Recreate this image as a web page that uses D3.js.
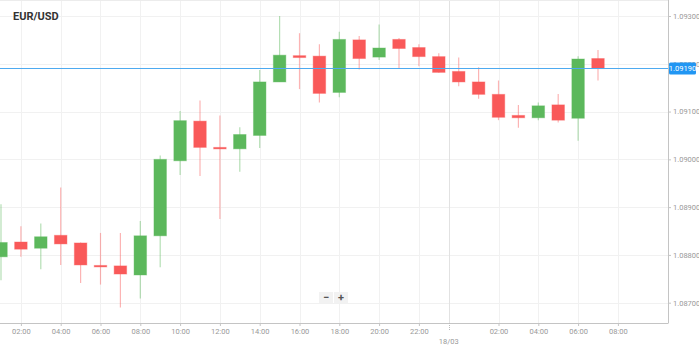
<!DOCTYPE html>
<html>
<head>
<meta charset="utf-8">
<script src="https://cdn.jsdelivr.net/npm/d3@7"></script>
<style>
  body { margin: 0; background: #fff; }
  svg { display: block; font-family: Roboto, "Open Sans", sans-serif; }
</style>
</head>
<body>
<div id="chart"></div>
<script>
// EUR/USD hourly candles, 17/03 01:00 -> 18/03 07:00
const hours = d3.range(1, 32);
const opens  = [1.08796, 1.08827, 1.08814, 1.08841, 1.08825, 1.08778, 1.08777, 1.08758, 1.08840, 1.08997,
                1.09080, 1.09025, 1.09022, 1.09050, 1.09162, 1.09217, 1.09216, 1.09140, 1.09250, 1.09214,
                1.09251, 1.09234, 1.09215, 1.09184, 1.09162, 1.09136, 1.09092, 1.09087, 1.09114, 1.09086, 1.09211];
const highs  = [1.08906, 1.08860, 1.08866, 1.08941, 1.08826, 1.08846, 1.08846, 1.08871, 1.09008, 1.09101,
                1.09123, 1.09092, 1.09067, 1.09187, 1.09300, 1.09264, 1.09241, 1.09267, 1.09258, 1.09282,
                1.09254, 1.09241, 1.09222, 1.09213, 1.09193, 1.09165, 1.09114, 1.09119, 1.09137, 1.09216, 1.09229];
const lows   = [1.08747, 1.08796, 1.08770, 1.08779, 1.08741, 1.08738, 1.08690, 1.08709, 1.08774, 1.08967,
                1.08965, 1.08875, 1.08974, 1.09024, 1.09162, 1.09147, 1.09119, 1.09130, 1.09188, 1.09208,
                1.09190, 1.09195, 1.09181, 1.09153, 1.09127, 1.09082, 1.09066, 1.09082, 1.09077, 1.09039, 1.09165];
const closes = [1.08826, 1.08812, 1.08838, 1.08823, 1.08779, 1.08777, 1.08760, 1.08840, 1.09000, 1.09081,
                1.09025, 1.09024, 1.09052, 1.09162, 1.09218, 1.09213, 1.09138, 1.09251, 1.09211, 1.09233,
                1.09232, 1.09215, 1.09182, 1.09162, 1.09136, 1.09088, 1.09087, 1.09112, 1.09082, 1.09210, 1.09190];

const priceTicks = [1.087, 1.088, 1.089, 1.090, 1.091, 1.092, 1.093];
const timeTicks = [2, 4, 6, 8, 10, 12, 14, 16, 18, 20, 22, 26, 28, 30, 32];
const daySplit = 23.5;
const dayLabel = "18/03";
const lastPrice = 1.09190;

const width = 699, height = 348;
const plotW = 668, plotH = 323;
const green = "#5cb85c", red = "#f95959";

const candles = hours.map((h, i) => ({
  h, open: opens[i], high: highs[i], low: lows[i], close: closes[i]
}));

const x = d3.scaleLinear().domain([1, 31]).range([1, 598]);
const y = d3.scaleLinear().domain([1.087, 1.093]).range([302.7, 16]);
const bodyW = 12.5;

const svg = d3.select("#chart").append("svg")
  .attr("width", width).attr("height", height);

// grid
svg.append("g").selectAll("line").data(priceTicks).join("line")
  .attr("x1", 0).attr("x2", plotW)
  .attr("y1", d => Math.round(y(d)) + 0.5).attr("y2", d => Math.round(y(d)) + 0.5)
  .attr("stroke", "#f1f1f1");
svg.append("g").selectAll("line").data(timeTicks).join("line")
  .attr("x1", d => Math.round(x(d)) + 0.5).attr("x2", d => Math.round(x(d)) + 0.5)
  .attr("y1", 0).attr("y2", plotH)
  .attr("stroke", "#f1f1f1");
svg.append("line")
  .attr("x1", Math.round(x(daySplit)) + 0.5).attr("x2", Math.round(x(daySplit)) + 0.5)
  .attr("y1", 0).attr("y2", plotH)
  .attr("stroke", "#e2e2e2");

// top border
svg.append("line").attr("x1", 0).attr("x2", plotW).attr("y1", 0.5).attr("y2", 0.5)
  .attr("stroke", "#ececec");

// candles
const g = svg.append("g");
const col = d => d.close >= d.open ? green : red;

g.selectAll("line.wick").data(candles).join("line")
  .attr("class", "wick")
  .attr("x1", d => x(d.h)).attr("x2", d => x(d.h))
  .attr("y1", d => y(d.high)).attr("y2", d => y(d.low))
  .attr("stroke", col).attr("stroke-opacity", 0.45).attr("stroke-width", 1.2);

g.selectAll("rect.body").data(candles).join("rect")
  .attr("class", "body")
  .attr("x", d => x(d.h) - bodyW / 2)
  .attr("width", bodyW)
  .attr("y", d => y(Math.max(d.open, d.close)))
  .attr("height", d => Math.max(1.5, Math.abs(y(d.open) - y(d.close))))
  .attr("fill", col)
  .attr("stroke", col).attr("stroke-opacity", 0.4).attr("stroke-width", 1);

// title
svg.append("text").attr("x", 13).attr("y", 19.5)
  .attr("font-size", 11).attr("font-weight", "bold").attr("fill", "#333")
  .text("EUR/USD");

// x axis
const xAxis = svg.append("g").attr("transform", `translate(0,${plotH})`)
  .call(d3.axisBottom(x).tickValues(timeTicks).tickSize(3).tickPadding(3)
    .tickFormat(d => String(d % 24).padStart(2, "0") + ":00"));
xAxis.select(".domain").attr("d", `M0,0.5H${plotW}`).attr("stroke", "#c4c4c4");
xAxis.selectAll(".tick line").attr("stroke", "#c4c4c4");
xAxis.selectAll(".tick text").attr("fill", "#999").attr("font-size", 7.5)
  .attr("font-family", "Roboto, sans-serif");

svg.append("line")
  .attr("x1", Math.round(x(daySplit)) + 0.5).attr("x2", Math.round(x(daySplit)) + 0.5)
  .attr("y1", plotH).attr("y2", plotH + 8)
  .attr("stroke", "#bbb").attr("stroke-dasharray", "1,1");
svg.append("text")
  .attr("x", x(daySplit)).attr("y", plotH + 21)
  .attr("text-anchor", "middle").attr("font-size", 7.5).attr("fill", "#999")
  .text(dayLabel);

// y axis
const yAxis = svg.append("g").attr("transform", `translate(${plotW},0)`)
  .call(d3.axisRight(y).tickValues(priceTicks).tickSize(3).tickPadding(2)
    .tickFormat(d3.format(".5f")));
yAxis.select(".domain").attr("d", `M0.5,0V${plotH + 0.5}`).attr("stroke", "#c4c4c4");
yAxis.selectAll(".tick line").attr("stroke", "#c4c4c4");
yAxis.selectAll(".tick text").attr("fill", "#999").attr("font-size", 7.5)
  .attr("font-family", "Roboto, sans-serif");

// last price line + label (the box sits over the 1.09200 tick label, as in the source)
const py = Math.round(y(lastPrice)) - 0.5;
svg.append("line")
  .attr("x1", 0).attr("x2", plotW)
  .attr("y1", py).attr("y2", py)
  .attr("stroke", "#4eaaf0").attr("stroke-width", 1);
svg.append("rect")
  .attr("x", plotW + 1).attr("y", py - 6)
  .attr("width", 27).attr("height", 12).attr("rx", 1.5)
  .attr("fill", "#2196f3");
svg.append("text")
  .attr("x", plotW + 14.5).attr("y", py + 2.6)
  .attr("text-anchor", "middle").attr("font-size", 7.5).attr("fill", "#fff")
  .text(d3.format(".5f")(lastPrice));

// zoom buttons
const zb = svg.append("g").attr("transform", "translate(319,292)");
zb.selectAll("rect").data(["−", "+"]).join("rect")
  .attr("x", (d, i) => i * 15).attr("width", 14).attr("height", 11)
  .attr("fill", "#f2f2f2");
zb.selectAll("text").data(["−", "+"]).join("text")
  .attr("x", (d, i) => i * 15 + 7).attr("y", 9)
  .attr("text-anchor", "middle").attr("font-size", 11).attr("font-weight", "bold")
  .attr("fill", "#555").text(d => d);
</script>
</body>
</html>
